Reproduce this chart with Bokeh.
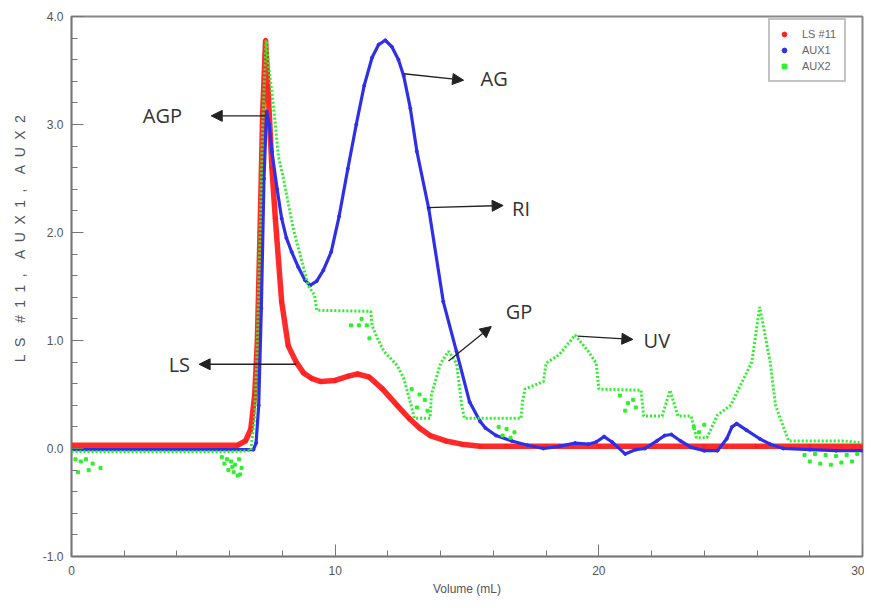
from bokeh.plotting import figure
from bokeh.models import (Range1d, FixedTicker, NumeralTickFormatter, Arrow, NormalHead,
                          Legend, LegendItem, ColumnDataSource)
from bokeh.core.properties import value
from bokeh.embed import file_html
from bokeh.resources import INLINE

# ---- data ----
red_x = [0, 6.3, 6.6, 6.8, 6.95, 7.05, 7.15, 7.25, 7.36, 7.45, 7.6, 7.73, 7.97, 8.22, 8.52, 8.8,
         9.1, 9.46, 10.0, 10.5, 10.85, 11.3, 11.8, 12.35, 12.8, 13.2, 13.6, 14.2, 14.8, 15.5,
         16.5, 18, 20, 22, 24, 26, 28, 30]
red_y = [0.03, 0.03, 0.07, 0.18, 0.5, 1.0, 2.0, 3.1, 3.78, 3.35, 2.6, 2.13, 1.36, 0.95, 0.8, 0.7,
         0.65, 0.62, 0.63, 0.67, 0.69, 0.66, 0.55, 0.40, 0.28, 0.19, 0.12, 0.07, 0.04, 0.02,
         0.02, 0.02, 0.02, 0.02, 0.02, 0.02, 0.02, 0.02]

blue_x = [0, 6.9, 7.0, 7.1, 7.2, 7.3, 7.4, 7.5, 7.6, 7.8, 7.97, 8.15, 8.35, 8.6, 8.85, 9.05, 9.3,
          9.55, 9.85, 10.15, 10.48, 10.8, 11.1, 11.4, 11.65, 11.9, 12.15, 12.4, 12.6, 12.85,
          13.1, 13.55, 14.1, 14.6, 15.1, 15.5, 15.7, 16.1, 16.7, 17.3, 17.9, 18.5, 19.1, 19.6,
          19.9, 20.2, 20.5, 21.0, 21.4, 21.75, 22.2, 22.5, 22.75, 23.1, 23.5, 24.0, 24.5, 24.85,
          25.05, 25.23, 25.6, 26.1, 26.5, 27.0, 28, 29, 30]
blue_y = [-0.01, -0.01, 0.05, 0.4, 1.3, 2.5, 3.12, 3.0, 2.75, 2.4, 2.13, 1.95, 1.82, 1.68, 1.56,
          1.51, 1.55, 1.65, 1.82, 2.15, 2.59, 3.0, 3.36, 3.62, 3.74, 3.78, 3.72, 3.6, 3.45, 3.15,
          2.75, 2.22, 1.36, 0.9, 0.43, 0.25, 0.19, 0.12, 0.07, 0.03, 0.0, 0.02, 0.05, 0.04,
          0.06, 0.11, 0.06, -0.05, -0.01, 0.0, 0.07, 0.12, 0.13, 0.07, 0.01, -0.02, -0.02, 0.09,
          0.2, 0.23, 0.17, 0.09, 0.04, 0.0, -0.01, -0.02, -0.02]

green_x = [0, 6.0, 6.8, 6.95, 7.05, 7.15, 7.25, 7.38, 7.47, 7.6, 7.73, 7.85, 8.04, 8.22, 8.41,
           8.55, 8.71, 8.97, 9.22, 9.3, 11.35, 11.4, 11.6, 11.85, 12.35, 12.6, 12.85, 13.0,
           13.6, 13.65, 14.0, 14.3, 14.6, 14.8, 14.9, 17.05, 17.1, 17.2, 17.9, 18.0, 18.5,
           19.1, 19.6, 19.9, 20.0, 21.6, 21.7, 22.4, 22.7, 23.0, 23.5, 23.7, 24.1, 24.5, 25.0,
           25.3, 25.8, 26.1, 26.5, 26.7, 27.0, 27.2, 29.3, 30]
green_y = [-0.03, -0.03, -0.02, 0.3, 1.0, 2.0, 3.0, 3.78, 3.55, 3.3, 3.0, 2.7, 2.5, 2.27, 2.04,
           1.9, 1.76, 1.51, 1.42, 1.28, 1.27, 1.14, 1.02, 0.9, 0.77, 0.65, 0.43, 0.28,
           0.28, 0.5, 0.79, 0.9, 0.79, 0.4, 0.28, 0.28, 0.43, 0.55, 0.62, 0.79, 0.87,
           1.05, 0.9, 0.79, 0.55, 0.54, 0.3, 0.3, 0.54, 0.3, 0.3, 0.1, 0.1, 0.31, 0.4,
           0.55, 0.8, 1.31, 0.8, 0.4, 0.2, 0.07, 0.07, 0.05]

noise_x = [0.15, 0.35, 0.55, 0.8, 1.1, 0.25, 0.65, 5.7, 5.9, 6.05, 6.2, 6.35, 6.45, 5.95, 6.15,
           6.3, 5.8, 6.1, 6.4, 10.6, 10.9, 11.2, 11.0, 11.3, 12.9, 13.2, 13.5, 13.1, 13.4,
           16.2, 16.5, 16.8, 16.35, 16.65, 20.8, 21.1, 21.4, 21.0, 21.3, 23.6, 23.8, 24.0,
           27.8, 28.2, 28.6, 29.0, 29.4, 29.8, 28.0, 28.4, 28.8, 29.2, 29.6]
noise_y = [-0.1, -0.12, -0.1, -0.14, -0.18, -0.22, -0.2, -0.08, -0.1, -0.12, -0.15, -0.1, -0.18,
           -0.2, -0.22, -0.25, -0.14, -0.17, -0.24, 1.14, 1.14, 1.14, 1.2, 1.02, 0.55, 0.5,
           0.35, 0.38, 0.45, 0.2, 0.18, 0.15, 0.12, 0.1, 0.49, 0.42, 0.38, 0.35, 0.45, 0.2,
           0.15, 0.22, -0.06, -0.05, -0.06, -0.07, -0.06, -0.05, -0.12, -0.14, -0.15, -0.13,
           -0.12]

x_ticks = [0, 10, 20, 30]
x_minor = [2, 4, 6, 8, 12, 14, 16, 18, 22, 24, 26, 28]
y_ticks = [-1, 0, 1, 2, 3, 4]
y_minor = [round(-1 + 0.2 * i, 1) for i in range(26)]

labels = ["AGP", "AG", "RI", "GP", "LS", "UV"]
label_x = [3.45, 16.03, 17.05, 16.97, 4.09, 22.2]
label_y = [3.08, 3.43, 2.22, 1.27, 0.78, 1.0]

arrow_x0 = [7.35, 12.6, 13.48, 14.3, 8.52, 19.19]
arrow_y0 = [3.08, 3.47, 2.23, 0.81, 0.78, 1.04]
arrow_x1 = [5.3, 14.87, 16.37, 15.92, 4.84, 21.29]
arrow_y1 = [3.08, 3.41, 2.25, 1.13, 0.78, 1.01]

y_title = "LS #11, AUX1, AUX2"

RED = "#ff2020"
BLUE = "#2f2fe8"
GREEN = "#2cf02c"

p = figure(width=864, height=598, output_backend="svg", toolbar_location=None,
           x_range=Range1d(0, 30), y_range=Range1d(-1, 4),
           min_border_left=71, min_border_right=2, min_border_top=16, min_border_bottom=42)
p.background_fill_color = "white"
p.border_fill_color = "white"
p.outline_line_color = "#888888"
p.outline_line_width = 2
p.xgrid.visible = False
p.ygrid.visible = False

p.xaxis.ticker = FixedTicker(ticks=x_ticks, minor_ticks=x_minor)
p.yaxis.ticker = FixedTicker(ticks=y_ticks, minor_ticks=y_minor)
p.yaxis.formatter = NumeralTickFormatter(format="0.0")
for ax in (p.xaxis, p.yaxis):
    ax.axis_line_color = "#777777"
    ax.axis_line_width = 1.5
    ax.major_tick_line_color = "#777777"
    ax.minor_tick_line_color = "#777777"
    ax.major_tick_in = 12
    ax.major_tick_out = 0
    ax.minor_tick_in = 6
    ax.minor_tick_out = 0
    ax.major_label_text_font = "Liberation Sans"
    ax.major_label_text_font_size = "12px"
    ax.major_label_text_color = "#555555"
    ax.axis_label_text_font = "Liberation Sans"
    ax.axis_label_text_font_style = "normal"
    ax.axis_label_text_color = "#555555"
p.xaxis.major_label_standoff = 9
p.yaxis.major_label_standoff = 8
p.xaxis.axis_label = "Volume (mL)"
p.xaxis.axis_label_text_font_size = "12px"
p.xaxis.axis_label_standoff = 4
# letter-spaced title, with leading spaces to push it up like the original
parts = []
for i, ch in enumerate(y_title):
    if ch == " ":
        parts.append("\u2002")
    else:
        if i > 0:
            parts.append("\u2004\u2009")
        parts.append(ch)
spaced = "".join(parts)
p.yaxis.axis_label = "\u2002" * 13 + "\u2004" + spaced
p.yaxis.axis_label_text_font_size = "14px"
p.yaxis.axis_label_standoff = 12

# series
p.line(red_x, red_y, line_color=RED, line_width=5.5, line_alpha=0.95)
r_red = p.scatter(red_x, red_y, size=4, color=RED, marker="circle")
p.line(blue_x, blue_y, line_color=BLUE, line_width=3.2)
r_blue = p.scatter(blue_x, blue_y, size=3, color=BLUE, marker="circle")
p.line(green_x, green_y, line_color=GREEN, line_width=3, line_dash="2 2")
r_green = p.scatter(noise_x, noise_y, size=3, color=GREEN, marker="square")

# annotations
src = ColumnDataSource(dict(x=label_x, y=label_y, t=labels))
p.text(x="x", y="y", text="t", source=src, text_font=value("Open Sans"),
       text_font_size="20px", text_color="#333333", text_align="center",
       text_baseline="middle")
for x0, y0, x1, y1 in zip(arrow_x0, arrow_y0, arrow_x1, arrow_y1):
    p.add_layout(Arrow(x_start=x0, y_start=y0, x_end=x1, y_end=y1,
                       line_color="#222222", line_width=1.3,
                       end=NormalHead(size=11, fill_color="#222222", line_color="#222222")))

legend = Legend(items=[LegendItem(label="LS #11", renderers=[r_red]),
                       LegendItem(label="AUX1", renderers=[r_blue]),
                       LegendItem(label="AUX2", renderers=[r_green])],
                location=(697, 474))
legend.label_text_font = "Liberation Sans"
legend.label_text_font_size = "11px"
legend.label_text_color = "#666666"
legend.glyph_width = 12
legend.glyph_height = 12
legend.label_height = 12
legend.spacing = 4
legend.padding = 8
legend.label_standoff = 12
legend.border_line_color = "#888888"
legend.border_line_width = 2
legend.background_fill_alpha = 1
p.add_layout(legend)

open("out.html", "w").write(file_html(p, INLINE))
